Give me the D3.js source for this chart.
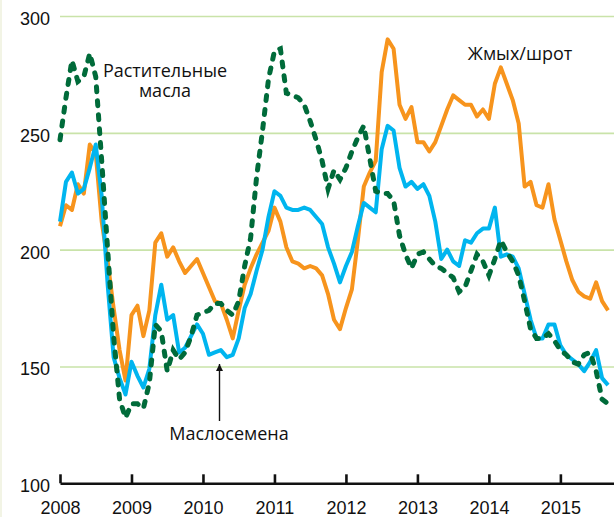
<!DOCTYPE html>
<html>
<head>
<meta charset="utf-8">
<script src="https://cdn.jsdelivr.net/npm/d3@7"></script>
<style>
  body { margin: 0; background: #fff; }
  svg { display: block; font-family: "Open Sans", sans-serif; }
</style>
</head>
<body>
<div id="holder"></div>
<script>
const w = 614;
const h = 517;

// monthly values, Jan 2008 .. Sep 2015
const oils = [247, 265, 281, 272, 274, 284, 274, 238, 200, 163, 136, 128, 134, 134, 132, 143,
  168, 165, 148, 157, 153, 156, 163, 172, 173, 174, 177, 177, 174, 172, 178, 193,
  205, 231, 251, 273, 285, 286, 267, 266, 265, 262, 255, 247, 238, 226, 234, 230,
  235, 242, 248, 253, 239, 225, 224, 224, 221, 206, 198, 192, 198, 199, 196, 193,
  192, 190, 188, 182, 184, 191, 198, 195, 189, 196, 204, 199, 195, 189, 178, 166,
  162, 162, 164, 161, 157, 155, 152, 151, 155, 156, 148, 136, 134];

const seeds = [212, 229, 233, 224, 226, 235, 245, 223, 185, 154, 145, 138, 152, 146, 141, 149,
  172, 185, 170, 172, 156, 158, 163, 168, 164, 155, 156, 157, 154, 155, 162, 175,
  181, 191, 200, 214, 225, 223, 218, 217, 217, 218, 217, 214, 211, 201, 194, 186,
  193, 199, 210, 220, 218, 216, 243, 253, 251, 235, 227, 229, 226, 228, 223, 212,
  196, 200, 195, 193, 204, 203, 207, 209, 209, 218, 197, 198, 197, 192, 181, 170,
  162, 162, 168, 168, 159, 155, 153, 151, 148, 152, 157, 145, 142];

const meal = [210, 219, 217, 228, 224, 245, 241, 212, 195, 175, 157, 144, 172, 176, 163, 174,
  203, 207, 197, 201, 195, 190, 193, 196, 190, 184, 178, 177, 170, 162, 174, 185,
  192, 198, 203, 208, 218, 212, 201, 195, 194, 192, 193, 192, 189, 181, 170, 166,
  175, 183, 204, 227, 233, 238, 276, 290, 286, 262, 256, 261, 246, 246, 242, 246,
  253, 260, 266, 264, 262, 262, 257, 260, 256, 271, 278, 271, 264, 254, 227, 229,
  219, 218, 228, 213, 204, 195, 187, 182, 180, 179, 186, 178, 174];

const years = [2008, 2009, 2010, 2011, 2012, 2013, 2014, 2015];
const yTicks = [100, 150, 200, 250, 300];
const months = d3.range(oils.length).map(i => 2008 + i / 12);

const svg = d3.select("#holder")
  .append("svg")
  .attr("width", w)
  .attr("height", h);

// faint frame edge on the left
svg.append("line")
  .attr("x1", 1).attr("x2", 1).attr("y1", 0).attr("y2", h)
  .attr("stroke", "#eef0dc").attr("stroke-width", 1.5);

const xScale = d3.scaleLinear()
  .domain([2008, 2015.75])
  .range([60, 614]);

const yScale = d3.scaleLinear()
  .domain([100, 300])
  .range([483.3, 16]);

// Y AXIS + GRID
const yAxis = svg.append("g")
  .attr("transform", "translate(60,0)")
  .call(d3.axisLeft(yScale).tickValues(yTicks).tickSize(-554).tickPadding(10));

yAxis.select(".domain").remove();
yAxis.selectAll(".tick line")
  .attr("stroke", "#c9e3a9")
  .attr("stroke-width", 1.6)
  .attr("opacity", d => d === 100 ? 0 : 1);
yAxis.selectAll(".tick text")
  .attr("dy", "0.47em")
  .style("font-size", "18px")
  .attr("fill", "#111");

// LINES
const line = d3.line()
  .x((d, i) => xScale(months[i]))
  .y(d => yScale(d));

svg.append("path")
  .datum(meal)
  .attr("d", line)
  .attr("fill", "none")
  .attr("stroke", "#f7941d")
  .attr("stroke-width", 4)
  .attr("stroke-linejoin", "round");

svg.append("path")
  .datum(seeds)
  .attr("d", line)
  .attr("fill", "none")
  .attr("stroke", "#00b5ef")
  .attr("stroke-width", 4)
  .attr("stroke-linejoin", "round");

svg.append("path")
  .datum(oils)
  .attr("d", line)
  .attr("fill", "none")
  .attr("stroke", "#006b3a")
  .attr("stroke-width", 5)
  .attr("stroke-linecap", "round")
  .attr("stroke-dasharray", "5,9");

// X AXIS
const xAxis = svg.append("g")
  .attr("transform", "translate(0," + yScale(100) + ")")
  .call(d3.axisBottom(xScale).tickValues(years).tickFormat(d3.format("d"))
    .tickSizeInner(-9).tickSizeOuter(0).tickPadding(18));

xAxis.select(".domain")
  .attr("stroke", "#111")
  .attr("stroke-width", 2.6);
xAxis.selectAll(".tick line")
  .attr("stroke", "#111")
  .attr("stroke-width", 2.6);
xAxis.selectAll(".tick text")
  .style("font-size", "18px")
  .attr("fill", "#111");

// LABELS
const label = (x, y, s) => {
  svg.append("text")
    .attr("x", x).attr("y", y)
    .attr("text-anchor", "middle")
    .style("font-size", "18px")
    .attr("fill", "#111")
    .text(s);
};

label(165, 77, "Растительные");
label(165, 97, "масла");
label(520, 60, "Жмых/шрот");
label(229, 440, "Маслосемена");

// arrow to the oilseeds line
svg.append("defs").append("marker")
  .attr("id", "arrow")
  .attr("viewBox", "0 0 10 10")
  .attr("refX", 10).attr("refY", 5)
  .attr("markerWidth", 5).attr("markerHeight", 5)
  .attr("orient", "auto")
  .append("path")
  .attr("d", "M0,0L10,5L0,10z")
  .attr("fill", "#111");

svg.append("line")
  .attr("x1", 219.5).attr("y1", 421)
  .attr("x2", 219.5).attr("y2", 364)
  .attr("stroke", "#111")
  .attr("stroke-width", 1.4)
  .attr("marker-end", "url(#arrow)");
</script>
</body>
</html>
